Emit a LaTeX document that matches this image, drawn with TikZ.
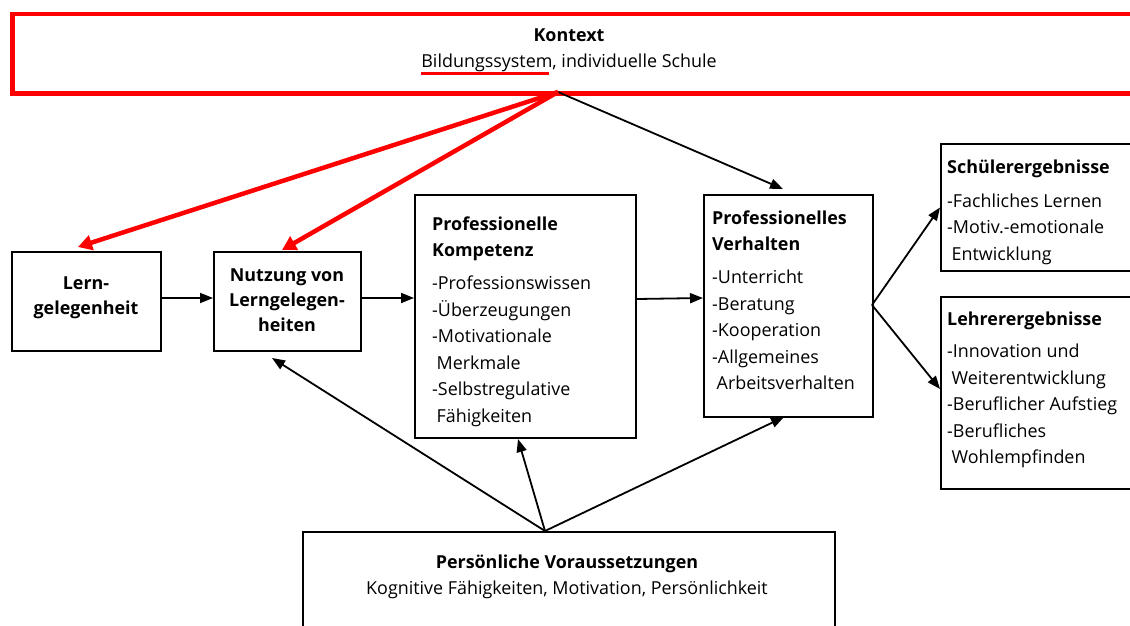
\documentclass[tikz,border=0pt]{standalone}
\usepackage{fontspec}
\setmainfont{Open Sans}
\usetikzlibrary{arrows.meta}

\begin{document}
\begin{tikzpicture}[x=1pt,y=-1pt,
  box/.style={draw=black, line width=2pt, inner sep=0pt, anchor=north west},
  redbox/.style={draw=red, line width=4.5pt, inner sep=0pt, anchor=north west},
  arr/.style={draw=black, line width=1.8pt, -{Triangle[length=13pt,width=10pt]}},
  redarr/.style={draw=red, line width=4.5pt, -{Triangle[length=14pt,width=15pt]}},
  txt/.style={inner sep=0pt, font=\fontsize{17.9}{26.5}\selectfont},
  tight/.style={inner sep=0pt, font=\fontsize{17.9}{25}\selectfont},
]
\useasboundingbox (0,0) rectangle (1130,626);
\clip (0,0) rectangle (1130,626);

% frames
\node[redbox, minimum width=1140, minimum height=79] (kontext) at (10,12) {};
\node[box, minimum width=149, minimum height=99] (lern) at (11,251) {};
\node[box, minimum width=147, minimum height=99] (nutzung) at (213,251) {};
\node[box, minimum width=221, minimum height=243] (kompetenz) at (414,194) {};
\node[box, minimum width=169, minimum height=222] (verhalten) at (703,194) {};
\node[box, minimum width=200, minimum height=127] (schueler) at (940,143) {};
\node[box, minimum width=200, minimum height=192] (lehrer) at (940,296) {};
\node[box, minimum width=532, minimum height=110] (pers) at (302,531) {};

% texts
\node[txt, anchor=base] (ktitle) at (569,42) {\bfseries Kontext};
\node[txt, anchor=base] (ksub) at (569,68) {Bildungssystem, individuelle Schule};
\draw[red, line width=3pt] (421,74) -- (549,74);

\node[tight, anchor=base] (lerntxt) at (86,289)
  {\begin{tabular}[t]{@{}c@{}}\bfseries Lern-\\ \bfseries gelegenheit\end{tabular}};
\node[tight, anchor=base] (nutztxt) at (287,281)
  {\begin{tabular}[t]{@{}c@{}}\bfseries Nutzung von\\ \bfseries Lerngelegen-\\ \bfseries heiten\end{tabular}};

\node[txt, anchor=base west] (komptxt) at (432,230)
  {\begin{tabular}[t]{@{}l@{}}\bfseries Professionelle\\ \bfseries Kompetenz\\[6.5pt]
   -Professionswissen\\ -Überzeugungen\\ -Motivationale\\ \hspace{4.5pt}Merkmale\\
   -Selbstregulative\\ \hspace{4.5pt}Fähigkeiten\end{tabular}};

\node[txt, anchor=base west] (verhtxt) at (712,224)
  {\begin{tabular}[t]{@{}l@{}}\bfseries Professionelles\\ \bfseries Verhalten\\[6.5pt]
   -Unterricht\\ -Beratung\\ -Kooperation\\ -Allgemeines\\ \hspace{4.5pt}Arbeitsverhalten\end{tabular}};

\node[txt, anchor=base west] (schuetxt) at (947,173)
  {\begin{tabular}[t]{@{}l@{}}\bfseries Schülerergebnisse\\[7.5pt]
   -Fachliches Lernen\\ -Motiv.-emotionale\\ \hspace{4.5pt}Entwicklung\end{tabular}};

\node[txt, anchor=base west] (lehrtxt) at (947,325)
  {\begin{tabular}[t]{@{}l@{}}\bfseries Lehrerergebnisse\\[6pt]
   -Innovation und\\ \hspace{4.5pt}Weiterentwicklung\\ -Beruflicher Aufstieg\\
   -Berufliches\\ \hspace{4.5pt}Wohlempfinden\end{tabular}};

\node[txt, anchor=base] (perstitle) at (567,568) {\bfseries Persönliche Voraussetzungen};
\node[txt, anchor=base] (perssub) at (567,594) {Kognitive Fähigkeiten, Motivation, Persönlichkeit};

% connector end points
\coordinate (ksrc) at (558,92);
\coordinate (lernin) at (78,247);
\coordinate (nutzin) at (282,250);
\coordinate (verhin) at (783,189);
\coordinate (fork) at (872,305);
\coordinate (lehrin) at (940,389);
\coordinate (psrc) at (545,531);
\coordinate (nutzbot) at (272,358);
\coordinate (kompbot) at (518,439);
\coordinate (verhbot) at (784,417);

% connectors
\draw[arr] (ksrc) -- (verhin);
\draw[redarr] (ksrc) -- (lernin);
\draw[redarr] (ksrc) -- (nutzin);

\draw[arr] (lern.east |- 0,298) -- (nutzung.west |- 0,298);
\draw[arr] (nutzung.east |- 0,298) -- (kompetenz.west |- 0,298);
\draw[arr] (kompetenz.east |- 0,299) -- (verhalten.west |- 0,298);

\draw[arr] (fork) -- (schueler.west);
\draw[arr] (fork) -- (lehrin);

\draw[arr] (psrc) -- (nutzbot);
\draw[arr] (psrc) -- (kompbot);
\draw[arr] (psrc) -- (verhbot);
\end{tikzpicture}
\end{document}
